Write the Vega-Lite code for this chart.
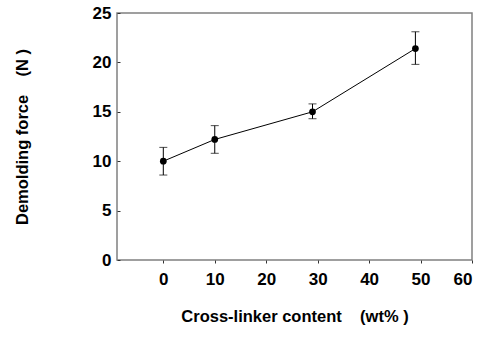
{
  "$schema": "https://vega.github.io/schema/vega-lite/v6.json",
  "width": 355,
  "height": 247,
  "autosize": "none",
  "padding": {"left": 117, "top": 13, "right": 12, "bottom": 77},
  "background": "white",
  "config": {
    "view": {"stroke": "#808080", "strokeWidth": 1.5},
    "font": "Liberation Sans",
    "axis": {
      "grid": false,
      "domain": false,
      "labelFont": "Liberation Sans",
      "labelFontWeight": "bold",
      "labelFontSize": 17,
      "labelColor": "black",
      "titleFont": "Liberation Sans",
      "titleFontWeight": "bold",
      "titleFontSize": 16.5,
      "titleColor": "black",
      "tickColor": "#333",
      "tickWidth": 1
    }
  },
  "data": {
    "values": [
      {"x": 0, "y": 10.0, "lo": 8.6, "hi": 11.4},
      {"x": 10, "y": 12.2, "lo": 10.8, "hi": 13.6},
      {"x": 29, "y": 15.0, "lo": 14.3, "hi": 15.8},
      {"x": 49, "y": 21.4, "lo": 19.8, "hi": 23.1}
    ]
  },
  "encoding": {
    "x": {
      "field": "x",
      "type": "quantitative",
      "scale": {"domain": [-9, 60], "nice": false, "zero": false},
      "axis": {
        "values": [0, 10, 20, 30, 40, 50, 60],
        "tickSize": 3,
        "labelPadding": 8,
        "title": "Cross-linker content \u00a0\u00a0\u00a0(wt% )",
        "titlePadding": 21
      }
    }
  },
  "layer": [
    {
      "mark": {"type": "rule", "color": "black", "strokeWidth": 1},
      "encoding": {
        "y": {"field": "lo", "type": "quantitative", "scale": {"domain": [0, 25], "nice": false},
          "axis": {
            "values": [0, 5, 10, 15, 20, 25],
            "tickSize": -3,
            "labelPadding": 9,
            "title": "Demolding force \u00a0\u00a0\u00a0(N )",
            "titlePadding": 62
          }},
        "y2": {"field": "hi"}
      }
    },
    {
      "mark": {"type": "tick", "orient": "horizontal", "color": "black", "size": 8, "thickness": 1},
      "encoding": {"y": {"field": "lo", "type": "quantitative"}}
    },
    {
      "mark": {"type": "tick", "orient": "horizontal", "color": "black", "size": 8, "thickness": 1},
      "encoding": {"y": {"field": "hi", "type": "quantitative"}}
    },
    {
      "mark": {"type": "line", "color": "black", "strokeWidth": 1},
      "encoding": {"y": {"field": "y", "type": "quantitative"}}
    },
    {
      "mark": {"type": "point", "filled": true, "color": "black", "size": 45, "opacity": 1},
      "encoding": {"y": {"field": "y", "type": "quantitative"}}
    }
  ]
}
